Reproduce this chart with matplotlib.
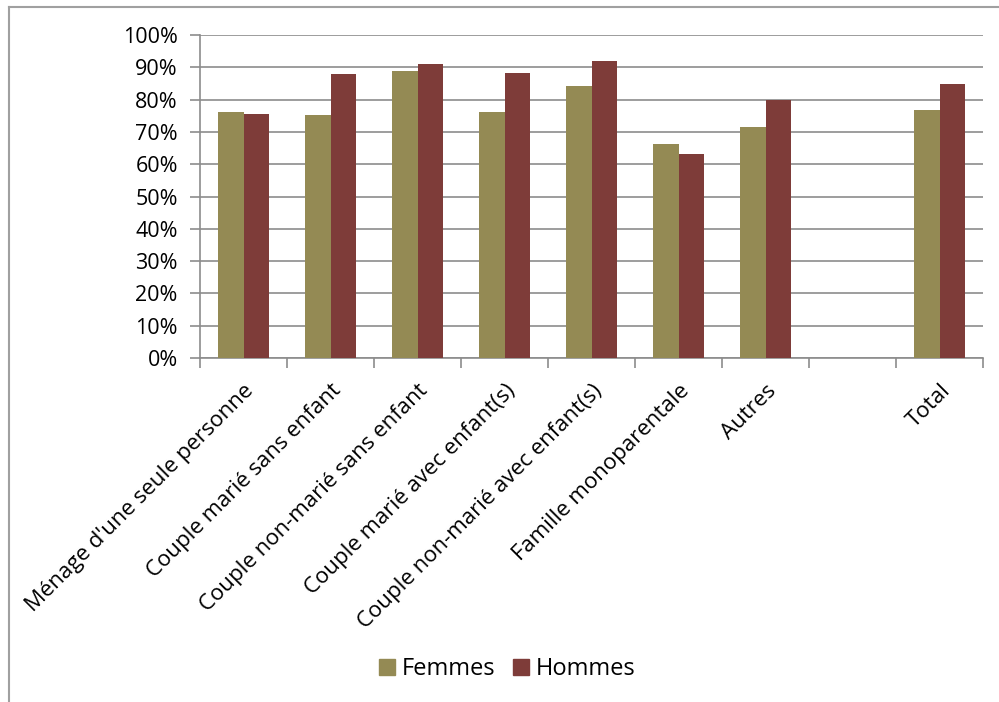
# Part des femmes et des hommes par type de ménage (barres groupées)

import matplotlib.pyplot as plt
from matplotlib.lines import Line2D
from matplotlib.ticker import PercentFormatter
import numpy as np

LABEL_SIZE = 15.5
LEGEND_SIZE = 17

categories = ["Ménage d'une seule personne", "Couple marié sans enfant",
              "Couple non-marié sans enfant", "Couple marié avec enfant(s)",
              "Couple non-marié avec enfant(s)", "Famille monoparentale",
              "Autres", "", "Total"]
femmes = [76.3, 75.3, 88.9, 76.2, 84.2, 66.4, 71.5, np.nan, 76.9]
hommes = [75.5, 88.1, 91.0, 88.4, 92.0, 63.3, 79.9, np.nan, 84.9]

plt.rcParams['font.family'] = ['Open Sans', 'DejaVu Sans']

fig = plt.figure(figsize=(9.99, 7.02), dpi=100)
ax = fig.add_axes([0.2002, 0.490, 0.784, 0.460])

x = np.arange(len(categories))
w = 0.296
ax.bar(x - w / 2, femmes, w, color='#948A54', label='Femmes', zorder=3)
ax.bar(x + w / 2, hommes, w, color='#7E3C39', label='Hommes', zorder=3)

ax.set_xlim(-0.5, len(categories) - 0.5)
ax.set_ylim(0, 100)
ax.set_yticks(np.arange(0, 101, 10))
ax.yaxis.set_major_formatter(PercentFormatter(decimals=0))
ax.grid(axis='y', color='#8c8c8c', linewidth=1.2, zorder=0)

for side in ['top', 'right']:
    ax.spines[side].set_visible(False)
for side in ['left', 'bottom']:
    ax.spines[side].set_color('#8c8c8c')
    ax.spines[side].set_linewidth(1.2)

# ticks at category boundaries, labels at centres
ax.set_xticks(np.arange(-0.5, len(categories), 1.0))
ax.set_xticklabels([])
ax.set_xticks(x, minor=True)
ax.set_xticklabels(categories, minor=True, rotation=45, ha='right', va='top',
                   rotation_mode='anchor', fontsize=16)
ax.tick_params(axis='x', which='major', length=7, color='#8c8c8c', width=1.2)
ax.tick_params(axis='x', which='minor', length=0, pad=16)
ax.tick_params(axis='y', length=7, color='#8c8c8c', width=1.2,
               labelsize=LABEL_SIZE, pad=9)

handles = [Line2D([], [], marker='s', linestyle='none', markersize=12,
                  color=c) for c in ['#948A54', '#7E3C39']]
fig.legend(handles, ['Femmes', 'Hommes'], loc='center',
           bbox_to_anchor=(0.507, 0.047), ncol=2, frameon=False,
           fontsize=LEGEND_SIZE, handlelength=0.8, handletextpad=0.2,
           columnspacing=0.7)

# chart frame
fig.add_artist(Line2D([0.0095, 0.0095], [0.0, 0.99], color='#a0a0a0',
                      linewidth=1.5, transform=fig.transFigure))
fig.add_artist(Line2D([0.0095, 1.0], [0.99, 0.99], color='#a0a0a0',
                      linewidth=1.5, transform=fig.transFigure))

plt.savefig('out.png', dpi=100)
